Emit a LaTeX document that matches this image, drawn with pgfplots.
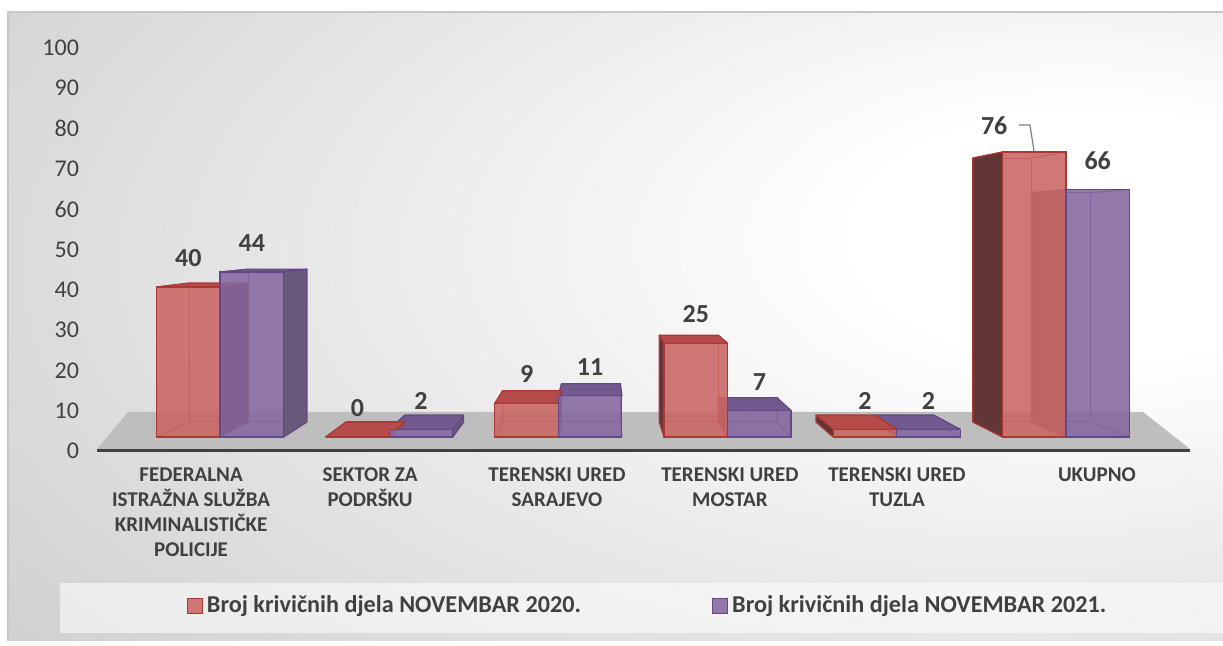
\documentclass[border=0pt]{standalone}
\usepackage{fontspec}
\setmainfont{Carlito}
\usepackage{pgfplots}
\pgfplotsset{compat=1.18}
\usepackage{pgfplotstable}
\definecolor{txt}{RGB}{64,64,64}
\definecolor{bgedge}{RGB}{198,198,198}
\definecolor{floorc}{RGB}{190,190,190}
\definecolor{axisc}{RGB}{64,64,64}
\definecolor{rfront}{RGB}{202,102,99}
\definecolor{redge}{RGB}{172,56,53}
\definecolor{rside}{RGB}{98,54,54}
\definecolor{rtop}{RGB}{182,76,73}
\definecolor{pfront}{RGB}{134,104,160}
\definecolor{pedge}{RGB}{98,72,134}
\definecolor{pside}{RGB}{104,88,122}
\definecolor{ptop}{RGB}{114,90,142}
\pgfdeclareradialshading{bgshade}{\pgfpoint{22bp}{8bp}}{color(0bp)=(white); color(10bp)=(white); color(55bp)=(bgedge); color(100bp)=(bgedge)}

\pgfplotstableread{
x a b
0 40 44
1 0 2
2 9 11
3 25 7
4 2 2
5 76 66
}\data

% depth faces of a bar, drawn from its top-right front corner
\newcommand\cuboid[5]{%
  \pgfmathsetmacro\cbC{61.5+84.6*\xv}%
  \pgfmathsetmacro\cbh{1.875*\yv}%
  \pgfmathsetmacro\cbYt{7+\cbh}%
  \pgfmathsetmacro\cbdXa{0.074*(251.5-\cbC-(#1))}%
  \pgfmathsetmacro\cbdXb{0.074*(251.5-\cbC-(#2))}%
  \pgfmathsetmacro\cbdYt{0.074*(108.5-\cbYt)}%
  \pgfmathsetmacro\cbyb{-\cbh}%
  \pgfmathsetmacro\cbybb{-\cbh+0.074*101.5}%
  \pgfmathsetmacro\cbxab{#1+\cbdXa}%
  \pgfmathsetmacro\cbxbb{#2+\cbdXb}%
  \draw[#5, line width=0.5pt] (\cbxab pt,\cbybb pt) rectangle (\cbxbb pt,\cbdYt pt);
  \draw[#5, line width=0.5pt] (#1pt,\cbyb pt) -- (\cbxab pt,\cbybb pt) (#2pt,\cbyb pt) -- (\cbxbb pt,\cbybb pt) (#1pt,0pt) -- (\cbxab pt,\cbdYt pt) (#2pt,0pt) -- (\cbxbb pt,\cbdYt pt);
  \ifdim\cbdYt pt>0pt \filldraw[fill=#4, draw=#5, line width=0.6pt, line join=round] (#1pt,0pt) -- (#2pt,0pt) -- (\cbxbb pt,\cbdYt pt) -- (\cbxab pt,\cbdYt pt) -- cycle;\fi
  \ifdim\cbdXa pt<0pt \filldraw[fill=#3, draw=#5, line width=0.6pt, line join=round] (#1pt,\cbyb pt) -- (#1pt,0pt) -- (\cbxab pt,\cbdYt pt) -- (\cbxab pt,\cbybb pt) -- cycle;\fi
  \ifdim\cbdXb pt>0pt \filldraw[fill=#3, draw=#5, line width=0.6pt, line join=round] (#2pt,\cbyb pt) -- (#2pt,0pt) -- (\cbxbb pt,\cbdYt pt) -- (\cbxbb pt,\cbybb pt) -- cycle;\fi
}

\begin{document}
\begin{tikzpicture}
\useasboundingbox (-48.5pt,-97.5pt) rectangle (563pt,225.5pt);
\fill[white] (-48.5pt,-97.5pt) rectangle (563pt,225.5pt);
\shade[shading=bgshade] (-44.5pt,-95pt) rectangle (563pt,219.5pt);
\draw[black!22, line width=0.6pt] (-44.5pt,-95pt) -- (-44.5pt,219.5pt) -- (563pt,219.5pt);
\fill[white, opacity=0.55] (-18.5pt,-91pt) rectangle (563pt,-66pt);
\fill[floorc] (0pt,1pt) -- (546.5pt,1pt) -- (523pt,19.5pt) -- (15.5pt,19.5pt) -- cycle;
\begin{axis}[
  at={(0pt,0pt)}, anchor=south west,
  scale only axis, width=546.5pt, height=201.5pt,
  xmin=-0.727, xmax=5.733, ymin=-3.733, ymax=103.733,
  clip=false, clip marker paths=true,
  axis x line*=bottom, axis y line*=left,
  x axis line style={line width=1.5pt, draw=axisc, -},
  y axis line style={draw=none, -},
  major tick length=0pt,
  xtick={-0.171,0.887,1.992,3.014,4.001,5.183},
  xticklabels={{FEDERALNA\\ISTRAŽNA SLUŽBA\\KRIMINALISTIČKE\\POLICIJE},{SEKTOR ZA\\PODRŠKU},{TERENSKI URED\\SARAJEVO},{TERENSKI URED\\MOSTAR},{TERENSKI URED\\TUZLA},{UKUPNO}},
  xticklabel style={align=center, anchor=north, yshift=-5pt, font=\fontsize{10.5}{12.5}\selectfont\bfseries, text=txt},
  ytick={-3.733,7.013,17.76,28.51,39.25,50,60.75,71.49,82.24,92.99,103.733},
  yticklabels={0,10,20,30,40,50,60,70,80,90,100},
  yticklabel style={anchor=east, xshift=-5.5pt, font=\fontsize{12}{14}\selectfont, text=txt},
  /pgf/number format/assume math mode=true,
  legend style={at={(0.5046,-0.3846)}, anchor=center, draw=none, fill=none,
    font=\fontsize{12.1}{14}\selectfont\bfseries, text=txt,
    /tikz/every even column/.append style={column sep=63.5pt}},
  legend columns=2,
]
% depth faces
\addplot[only marks, scatter, point meta=y, mark=*, mark size=0pt, forget plot,
  visualization depends on={rawx \as \xv},
  visualization depends on={rawy \as \yv},
  scatter/@pre marker code/.code={\cuboid{0}{31.75}{pside}{ptop}{pedge}},
  scatter/@post marker code/.code={}]
  table[x=x,y=b]{\data};
\addplot[only marks, scatter, point meta=y, mark=*, mark size=0pt, forget plot,
  visualization depends on={rawx \as \xv},
  visualization depends on={rawy \as \yv},
  scatter/@pre marker code/.code={\cuboid{-31.75}{0}{rside}{rtop}{redge}},
  scatter/@post marker code/.code={}]
  table[x=x,y=a]{\data};
% front faces
\addplot[ybar, bar width=31.75pt, bar shift=-15.875pt, fill=rfront, fill opacity=0.88, draw=redge, line width=0.6pt,
  legend image code/.code={\draw[fill=rfront, draw=redge, line width=0.6pt] (0pt,-3.75pt) rectangle (7.5pt,3.75pt);},
  nodes near coords, point meta=y,
  visualization depends on={rawx \as \lxv},
  every node near coord/.append style={font=\fontsize{13}{15}\selectfont\bfseries, text=txt, fill opacity=1, text opacity=1, anchor=south, yshift=6.5pt-(\lxv>4.5)*1.5pt, xshift={-15.875pt+(\lxv>4.5)*(-20pt)}}]
  table[x=x,y=a]{\data};
\addlegendentry{Broj krivičnih djela NOVEMBAR 2020.}
\addplot[ybar, bar width=31.75pt, bar shift=15.875pt, fill=pfront, fill opacity=0.88, draw=pedge, line width=0.6pt,
  legend image code/.code={\draw[fill=pfront, draw=pedge, line width=0.6pt] (0pt,-3.75pt) rectangle (7.5pt,3.75pt);},
  nodes near coords, point meta=y,
  every node near coord/.append style={font=\fontsize{13}{15}\selectfont\bfseries, text=txt, fill opacity=1, text opacity=1, anchor=south, yshift=6.5pt, xshift=15.875pt}]
  table[x=x,y=b]{\data};
\addlegendentry{Broj krivičnih djela NOVEMBAR 2021.}
\end{axis}
\draw[black!50, line width=0.6pt] (461pt,163pt) -- (466.5pt,163pt) -- (468.5pt,150pt);
\end{tikzpicture}
\end{document}
